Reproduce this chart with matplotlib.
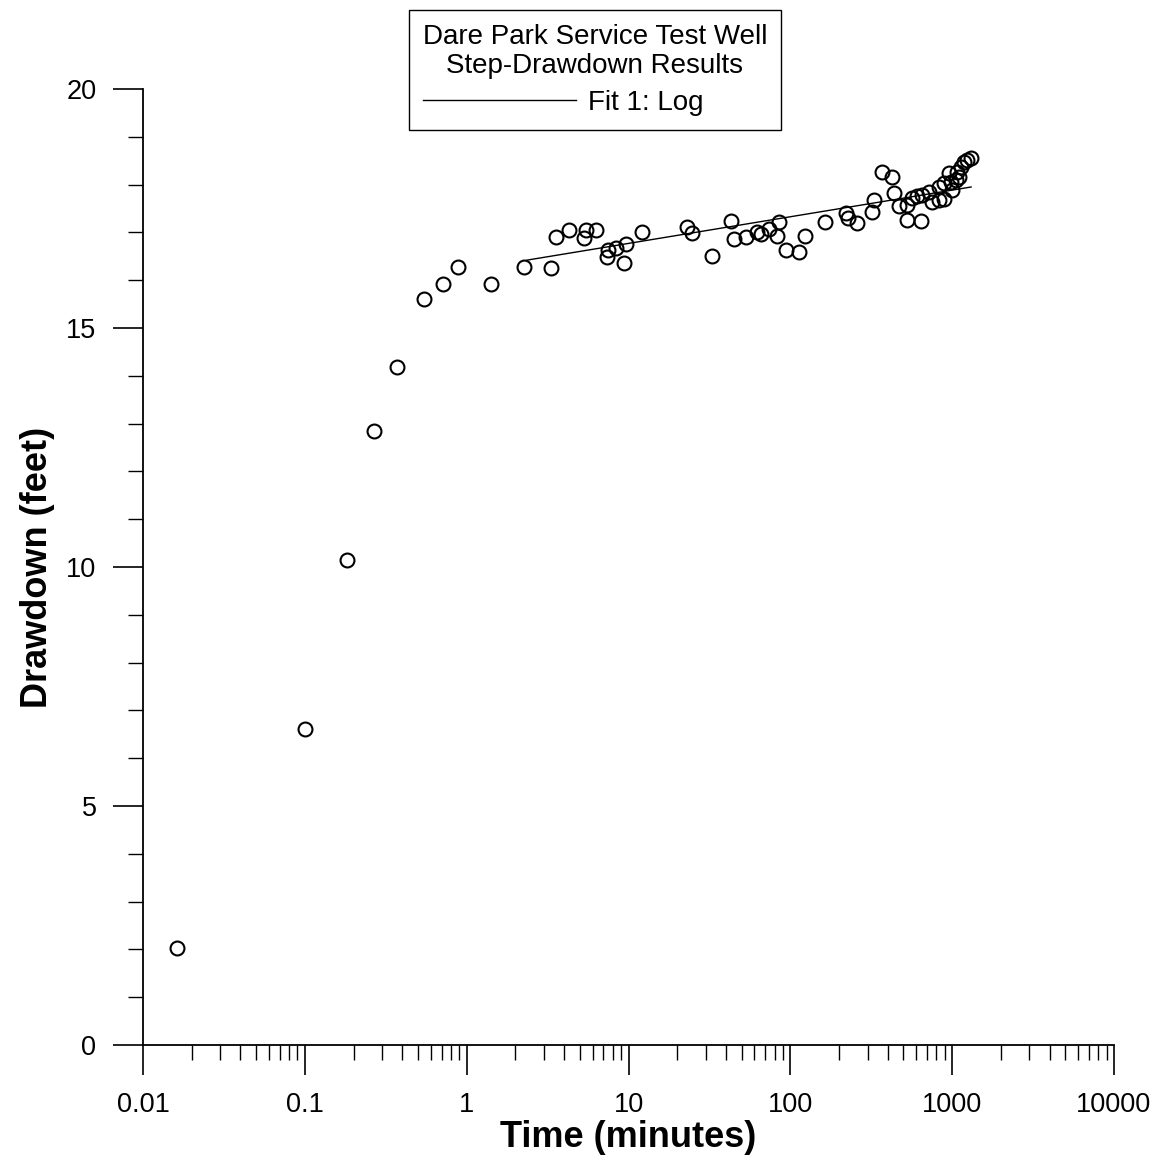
import matplotlib
matplotlib.use("Agg")
import matplotlib.pyplot as plt
from matplotlib.ticker import FixedLocator, MultipleLocator, LogLocator, NullFormatter

plt.rcParams['font.family'] = ['Liberation Sans', 'DejaVu Sans']

# step-drawdown test readings (time in minutes, drawdown in feet)
time_min = [0.0162, 0.100, 0.182, 0.267, 0.371, 0.545, 0.714, 0.884, 1.41, 2.26,
            3.32, 3.56, 4.29, 5.31, 5.46, 6.30, 7.36, 7.47, 8.37, 9.38,
            9.66, 12.1, 23.0, 24.7, 32.8, 43.0, 44.9, 53.2, 62.2, 65.9,
            73.9, 85.1, 82.7, 94.0, 113, 123, 164, 221, 228, 258,
            320, 329, 369, 425, 438, 470, 526, 526, 565, 607,
            643, 652, 720, 751, 830, 891, 830, 891, 957, 985,
            1057, 1072, 1104, 997, 1136, 1186, 1238, 1309]
drawdown_ft = [2.03, 6.61, 10.15, 12.85, 14.18, 15.61, 15.92, 16.28, 15.92, 16.28,
               16.26, 16.90, 17.05, 16.88, 17.05, 17.05, 16.49, 16.63, 16.67, 16.36,
               16.76, 17.01, 17.11, 16.99, 16.51, 17.24, 16.86, 16.90, 17.01, 16.97,
               17.07, 17.22, 16.92, 16.63, 16.59, 16.92, 17.22, 17.41, 17.30, 17.20,
               17.43, 17.68, 18.26, 18.16, 17.82, 17.55, 17.26, 17.57, 17.72, 17.76,
               17.24, 17.78, 17.85, 17.64, 17.68, 17.70, 17.95, 18.03, 18.24, 18.05,
               18.10, 18.26, 18.16, 17.89, 18.37, 18.47, 18.51, 18.56]

# log fit (straight on a log axis), end points
fit_time = [2.36, 1309]
fit_drawdown = [16.42, 17.95]

xticks = [0.01, 0.1, 1, 10, 100, 1000, 10000]
xtick_labels = ['0.01', '0.1', '1', '10', '100', '1000', '10000']

fig = plt.figure(figsize=(11.61, 11.60), dpi=100)
ax = fig.add_axes([143/1161, 1-1045/1160, (1114-143)/1161, (1045-89)/1160])

ax.plot(time_min, drawdown_ft, linestyle='none', marker='o', markersize=10,
        markerfacecolor='none', markeredgecolor='black', markeredgewidth=1.5)
ax.plot(fit_time, fit_drawdown, color='black', linewidth=1.0, label='Fit 1: Log')

ax.set_xscale('log')
ax.set_xlim(0.01, 10000)
ax.set_ylim(0, 20)

ax.xaxis.set_major_locator(FixedLocator(xticks))
ax.set_xticklabels(xtick_labels)
ax.xaxis.set_minor_locator(LogLocator(base=10, subs=range(2, 10), numticks=20))
ax.xaxis.set_minor_formatter(NullFormatter())
ax.yaxis.set_major_locator(MultipleLocator(5))
ax.yaxis.set_minor_locator(MultipleLocator(1))

for s in ['top', 'right']:
    ax.spines[s].set_visible(False)
for s in ['left', 'bottom']:
    ax.spines[s].set_linewidth(1.3)

ax.tick_params(which='major', direction='out', length=21.5, width=1.2,
               labelsize=19.5, pad=12)
ax.tick_params(which='minor', direction='out', length=11, width=1.0)

ax.set_xlabel('Time (minutes)', fontsize=26, fontweight='bold', labelpad=2)
ax.set_ylabel('Drawdown (feet)', fontsize=26, fontweight='bold', labelpad=8)

leg = ax.legend(title='Dare Park Service Test Well\nStep-Drawdown Results',
                loc='upper center', bbox_to_anchor=(595/1161, 1-10/1160),
                bbox_transform=fig.transFigure, fontsize=20, title_fontsize=20,
                handlelength=5.5, handletextpad=0.45, borderpad=0.5,
                labelspacing=0.4, borderaxespad=0, fancybox=False,
                framealpha=1, edgecolor='black', alignment='left')
leg.get_title().set_multialignment('center')
leg.get_title().set_linespacing(1.15)
leg.get_frame().set_linewidth(1.0)

fig.savefig('out.png', dpi=100)
